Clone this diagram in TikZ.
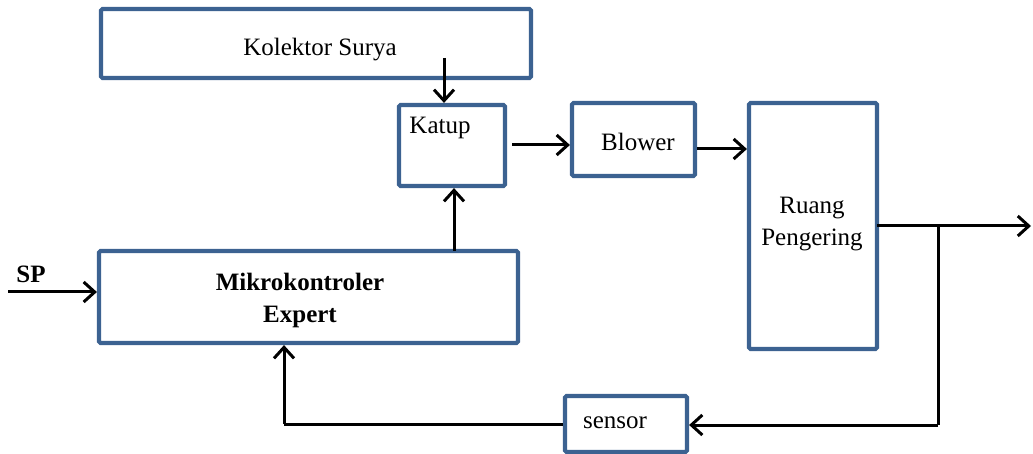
\documentclass[tikz,border=0pt]{standalone}
\usepackage{fontspec}
\setmainfont{Liberation Serif}
\usetikzlibrary{arrows.meta}
\definecolor{boxblue}{HTML}{3C6291}
\begin{document}
\begin{tikzpicture}[x=1pt,y=-1pt,
  blk/.style={draw=boxblue, line width=4.2pt, rounded corners=1.5pt, fill=white, inner sep=0pt},
  lbl/.style={font=\fontsize{25}{32}\selectfont, align=center, inner sep=0pt},
  conn/.style={line width=3pt, -{Straight Barb[length=11pt,width=20pt,line width=3pt]}},
  plainline/.style={line width=3pt}]
\useasboundingbox (0,0) rectangle (1033,454);
% boxes
\node[blk, minimum width=430pt, minimum height=69pt] (kol) at (316,43.5) {};
\node[blk, minimum width=106pt, minimum height=81pt] (kat) at (452,145.5) {};
\node[blk, minimum width=123pt, minimum height=73pt] (blo) at (633.5,139.5) {};
\node[blk, minimum width=128pt, minimum height=246pt] (rua) at (813,226) {};
\node[blk, minimum width=419pt, minimum height=92pt] (mik) at (308.5,297) {};
\node[blk, minimum width=122pt, minimum height=56pt] (sen) at (626,424) {};
% texts
\node[lbl] (tkol) at (320,50) {Kolektor Surya};
\node[lbl] (tkat) at (440,128) {Katup};
\node[lbl] (tblo) at (638,142) {Blower};
\node[lbl] (trua) at (812,224) {Ruang\\Pengering};
\node[lbl, font=\fontsize{25}{32}\selectfont\bfseries] (tmik) at (300,300) {Mikrokontroler\\Expert};
\node[lbl] (tsen) at (615,423) {sensor};
\node[lbl, font=\fontsize{25}{32}\selectfont\bfseries] (tsp) at (31,274) {SP};
% connectors
\coordinate (kolin) at (444,58);
\draw[conn] (kolin) -- (kolin |- kat.north);
\coordinate (ks) at (512,145);
\draw[conn] (ks) -- (ks -| blo.west);
\coordinate (bs) at (697,149);
\draw[conn] (bs) -- (bs -| rua.west);
\coordinate (rs) at (877,226);
\coordinate (out) at (1031,226);
\draw[conn] (rs) -- (out);
\coordinate (br) at (938,226);
\coordinate (brb) at (938,425);
\draw[plainline] (br) -- (brb);
\draw[conn] (brb) -- (brb -| sen.east);
\coordinate (fb) at (284,424);
\draw[plainline] (sen.west) -- (fb);
\draw[conn] (fb) -- (fb |- mik.south);
\coordinate (mk) at (454,251);
\draw[conn] (mk) -- (mk |- kat.south);
\coordinate (sp) at (8,292);
\draw[conn] (sp) -- (sp -| mik.west);
\end{tikzpicture}
\end{document}
